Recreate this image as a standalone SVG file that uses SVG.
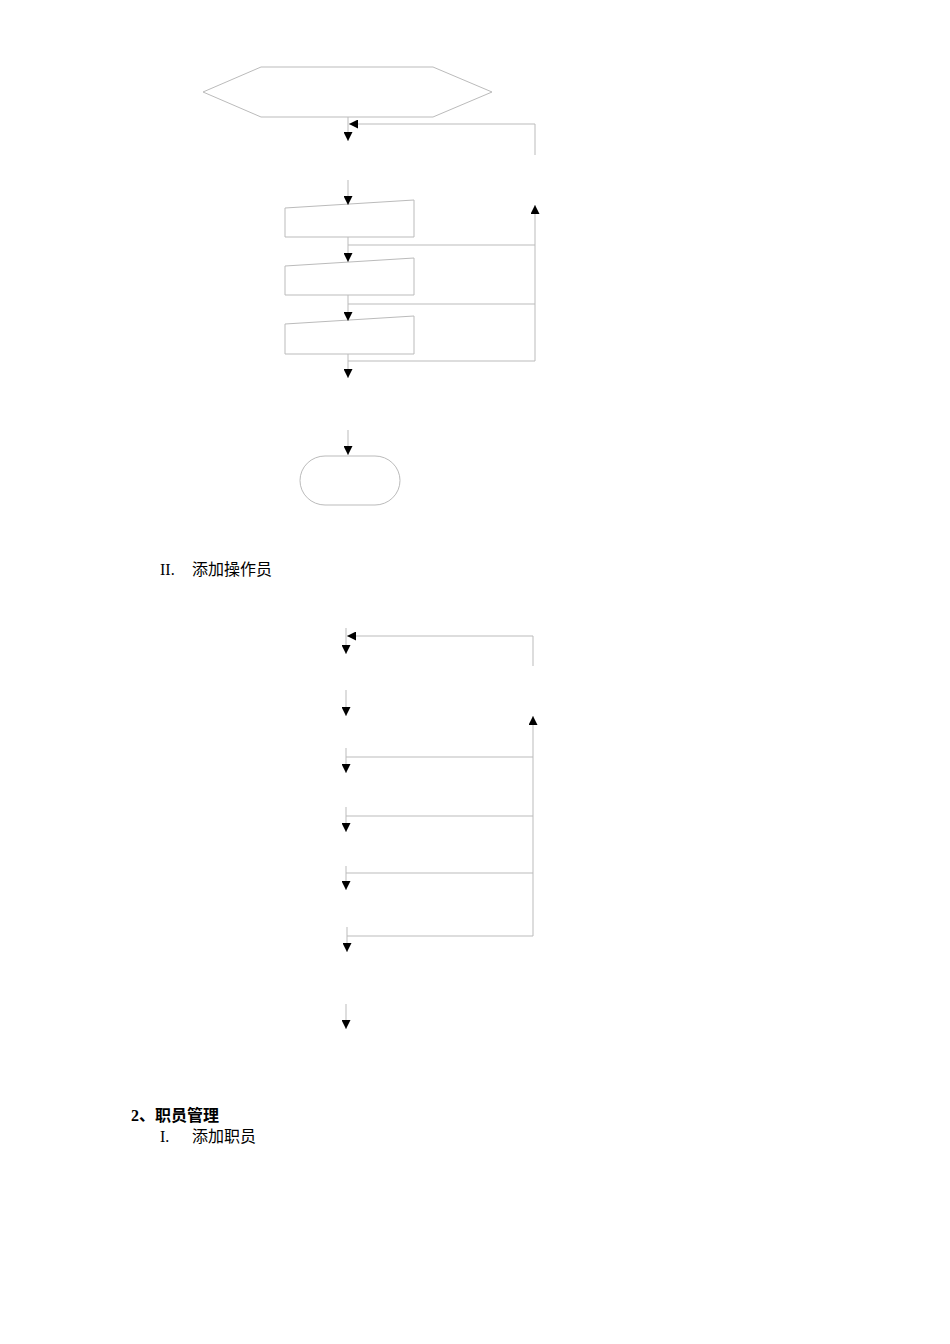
<svg xmlns="http://www.w3.org/2000/svg" width="950" height="1344" viewBox="0 0 950 1344">
<defs>
<marker id="ah" viewBox="0 0 10 10" refX="10" refY="5" markerWidth="9" markerHeight="9" markerUnits="userSpaceOnUse" orient="auto"><path d="M0,0L10,5L0,10z" fill="#000"/></marker>
<style>.s{fill:none;stroke:#bbb;stroke-width:1}.t{font-family:"Liberation Serif","Noto Sans CJK SC",serif;font-size:16px;fill:#000}</style>
</defs>
<rect width="950" height="1344" fill="#fff"/>
<g id="n1"><polygon class="s" points="203,92 261,67 433,67 492,92 433,117 261,117"/></g>
<g id="n2"><polygon class="s" points="285,208 414,200 414,237 285,237"/></g>
<g id="n3"><polygon class="s" points="285,266 414,258 414,295 285,295"/></g>
<g id="n4"><polygon class="s" points="285,324 414,316 414,354 285,354"/></g>
<g id="n5"><rect class="s" x="300" y="456" width="100" height="49" rx="25"/></g>
<g id="connectors">
<path class="s" d="M348,117V141" marker-end="url(#ah)"/>
<path class="s" d="M535,155V124H349" marker-end="url(#ah)"/>
<path class="s" d="M348,180V205" marker-end="url(#ah)"/>
<path class="s" d="M348,237V262" marker-end="url(#ah)"/>
<path class="s" d="M348,295V321" marker-end="url(#ah)"/>
<path class="s" d="M348,354V378" marker-end="url(#ah)"/>
<path class="s" d="M348,245H535M348,304H535M348,361H535"/>
<path class="s" d="M535,361V205" marker-end="url(#ah)"/>
<path class="s" d="M348,430V455" marker-end="url(#ah)"/>
<path class="s" d="M346,628V654" marker-end="url(#ah)"/>
<path class="s" d="M533,666V636H347" marker-end="url(#ah)"/>
<path class="s" d="M346,690V716" marker-end="url(#ah)"/>
<path class="s" d="M533,936V716" marker-end="url(#ah)"/>
<path class="s" d="M346,757H533M346,816H533M346,873H533M347,936H533"/>
<path class="s" d="M346,748V773" marker-end="url(#ah)"/>
<path class="s" d="M346,807V832" marker-end="url(#ah)"/>
<path class="s" d="M346,866V890" marker-end="url(#ah)"/>
<path class="s" d="M347,927V952" marker-end="url(#ah)"/>
<path class="s" d="M346,1004V1029" marker-end="url(#ah)"/>
</g>
<text class="t" x="160" y="575">II.</text><text class="t" x="192" y="575">添加操作员</text>
<text class="t" x="131" y="1121" font-weight="bold" font-size="17">2、职员管理</text>
<text class="t" x="160" y="1142">I.</text><text class="t" x="192" y="1142">添加职员</text>
</svg>
